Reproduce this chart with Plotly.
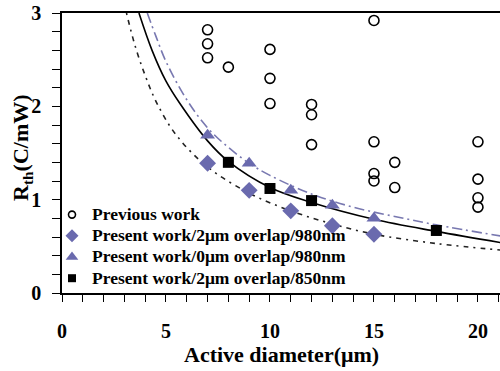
import plotly.graph_objects as go

# Data
prev_x = [7, 7, 7, 8, 10, 10, 10, 12, 12, 12, 15, 15, 15, 15, 16, 16, 20, 20, 20, 20]
prev_y = [2.82, 2.67, 2.52, 2.42, 2.61, 2.30, 2.03, 2.02, 1.91, 1.59, 2.92, 1.62, 1.28, 1.20, 1.40, 1.13, 1.62, 1.22, 1.02, 0.92]

dia_x = [7, 9, 11, 13, 15]
dia_y = [1.39, 1.10, 0.88, 0.72, 0.63]

tri_x = [7, 9, 11, 13, 15]
tri_y = [1.69, 1.39, 1.10, 0.94, 0.80]

sq_x = [8, 10, 12, 18]
sq_y = [1.40, 1.12, 0.99, 0.67]

# fitted curves
up_x = [4.1, 4.5, 5, 6, 7, 8, 9, 10, 12, 14, 16, 18, 21.1]
up_y = [3.0, 2.76, 2.48, 2.07, 1.77, 1.56, 1.39, 1.26, 1.06, 0.92, 0.82, 0.73, 0.61]

mid_x = [3.7, 4.33, 5, 5.67, 7, 8, 10, 12, 15, 18, 21.1]
mid_y = [3.0, 2.6, 2.27, 2.03, 1.63, 1.41, 1.13, 0.97, 0.79, 0.66, 0.54]

low_x = [3.1, 3.5, 4, 4.57, 5.5, 7, 9, 11, 13, 15, 18, 21.1]
low_y = [3.0, 2.66, 2.33, 2.03, 1.69, 1.35, 1.07, 0.88, 0.74, 0.63, 0.53, 0.46]

legend_names = ["Previous work",
                "Present work/2\u03bcm overlap/980nm",
                "Present work/0\u03bcm overlap/980nm",
                "Present work/2\u03bcm overlap/850nm"]

FONT = "Liberation Serif"
PURPLE = "#6A6AAE"

fig = go.Figure()

fig.add_trace(go.Scatter(x=up_x, y=up_y, mode="lines", showlegend=False,
                         line=dict(color="#7878B0", width=1.6, dash="10px,4px,2px,4px"),
                         line_shape="spline"))
fig.add_trace(go.Scatter(x=mid_x, y=mid_y, mode="lines", showlegend=False,
                         line=dict(color="black", width=1.6), line_shape="spline"))
fig.add_trace(go.Scatter(x=low_x, y=low_y, mode="lines", showlegend=False,
                         line=dict(color="#222222", width=1.6, dash="2px,5px,5px,5px"),
                         line_shape="spline"))

series = [
    (prev_x, prev_y, dict(symbol="circle-open", size=10, color="black", line=dict(width=1.6, color="black")),
     dict(symbol="circle-open", size=7, color="black", line=dict(width=1.6, color="black"))),
    (dia_x, dia_y, dict(symbol="diamond", size=13, color=PURPLE), dict(symbol="diamond", size=10, color=PURPLE)),
    (tri_x, tri_y, dict(symbol="triangle-up", size=13, color=PURPLE), dict(symbol="triangle-up", size=11, color=PURPLE)),
    (sq_x, sq_y, dict(symbol="square", size=11, color="black"), dict(symbol="square", size=8, color="black")),
]

for (xs, ys, mk, lmk), name in zip(series, legend_names):
    fig.add_trace(go.Scatter(x=xs, y=ys, mode="markers", showlegend=False, marker=mk, name=name))
for (xs, ys, mk, lmk), name in zip(series, legend_names):
    fig.add_trace(go.Scatter(x=[None], y=[None], mode="markers", showlegend=True, marker=lmk,
                             name='<span style="font-size:17.5px">' + name + '</span>'))

pw, ph = 500 - 62, 371 - 13 - 78

fig.update_layout(
    width=500, height=371,
    margin=dict(l=62, r=0, t=13, b=78),
    paper_bgcolor="white", plot_bgcolor="white",
    font=dict(family=FONT, size=18, color="black"),
    showlegend=True,
    legend=dict(x=(52 - 62) / pw, y=(293 - 199) / ph, xanchor="left", yanchor="top",
                bgcolor="rgba(0,0,0,0)", itemwidth=30, tracegroupgap=0,
                font=dict(family=FONT, size=14, color="black", weight="bold"),
                itemsizing="trace"),
    xaxis=dict(range=[0, 21.06], showgrid=False, zeroline=False,
               showline=True, linecolor="black", linewidth=1.5, mirror=True,
               ticks="outside", ticklen=7, tickwidth=1.2, tickcolor="black",
               tickvals=[0, 5, 10, 15, 20],
               minor=dict(dtick=1, ticks="outside", ticklen=7, tickwidth=1.2, tickcolor="black", showgrid=False),
               tickfont=dict(family=FONT, size=20, weight="bold"),
               ticklabelstandoff=12),
    yaxis=dict(range=[0, 3], showgrid=False, zeroline=False,
               showline=True, linecolor="black", linewidth=1.5,
               ticks="outside", ticklen=8, tickwidth=1.2, tickcolor="black",
               tickvals=[0, 1, 2, 3],
               minor=dict(dtick=0.2, ticks="outside", ticklen=8, tickwidth=1.2, tickcolor="black", showgrid=False),
               tickfont=dict(family=FONT, size=20, weight="bold"),
               ticklabelstandoff=7),
    annotations=[
        dict(text="Active diameter(\u03bcm)", x=(281 - 62) / pw, y=(293 - 354) / ph,
             xref="paper", yref="paper", xanchor="center", yanchor="middle",
             showarrow=False, font=dict(family=FONT, size=22, weight="bold")),
        dict(text="R<sub>th</sub>(C/mW)", textangle=-90, x=(22 - 62) / pw, y=(293 - 148) / ph,
             xref="paper", yref="paper", xanchor="center", yanchor="middle",
             showarrow=False, font=dict(family=FONT, size=22, weight="bold")),
    ],
)

fig.write_html("out.html")
